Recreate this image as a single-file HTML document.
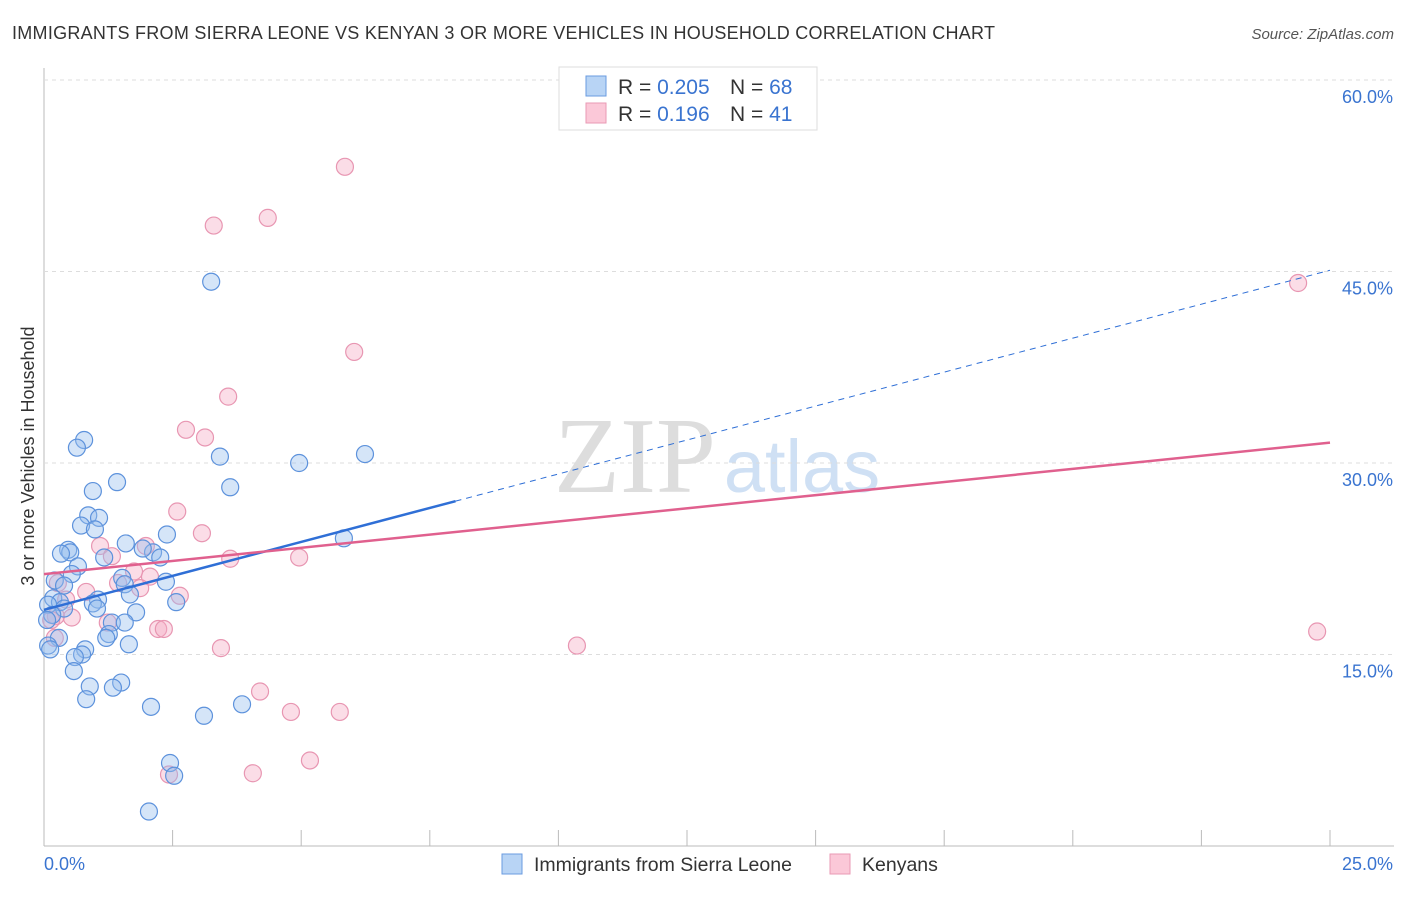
<!DOCTYPE html>
<html><head><meta charset="utf-8"><style>
body{margin:0;background:#fff;font-family:"Liberation Sans",sans-serif;}
</style></head><body>
<svg id="chart" width="1406" height="892">
<text x="12" y="39" font-size="18" fill="#333" textLength="983">IMMIGRANTS FROM SIERRA LEONE VS KENYAN 3 OR MORE VEHICLES IN HOUSEHOLD CORRELATION CHART</text>
<text x="1394" y="39" font-size="15" fill="#555" text-anchor="end" font-style="italic">Source: ZipAtlas.com</text>
<text x="635" y="492" font-size="108" fill="#ddd" text-anchor="middle" font-family="Liberation Serif">ZIP</text>
<text x="802" y="492" font-size="74" fill="#cfe0f4" text-anchor="middle">atlas</text>
<text transform="translate(34,456) rotate(-90)" font-size="18" fill="#333" text-anchor="middle">3 or more Vehicles in Household</text>
<g id="grid"></g><g id="pts"></g><g id="lines"></g>
<g>
<rect x="559" y="67" width="258" height="63" fill="#fff" stroke="#ddd"/>
<rect x="586" y="76" width="20" height="20" fill="#b8d4f5" stroke="#6a9be0"/>
<rect x="586" y="103" width="20" height="20" fill="#fbc8d8" stroke="#e99ab4"/>
<text x="618" y="94" font-size="21" fill="#333">R = <tspan fill="#3a74d0">0.205</tspan></text>
<text x="730" y="94" font-size="21" fill="#333">N = <tspan fill="#3a74d0">68</tspan></text>
<text x="618" y="121" font-size="21" fill="#333">R = <tspan fill="#3a74d0"> 0.196</tspan></text>
<text x="730" y="121" font-size="21" fill="#333">N = <tspan fill="#3a74d0">41</tspan></text>
</g>
<g>
<rect x="502" y="854" width="20" height="20" fill="#b8d4f5" stroke="#6a9be0"/>
<text x="534" y="871" font-size="19.5" fill="#333">Immigrants from Sierra Leone</text>
<rect x="830" y="854" width="20" height="20" fill="#fbc8d8" stroke="#e99ab4"/>
<text x="862" y="871" font-size="19.5" fill="#333">Kenyans</text>
</g>
<text x="44" y="870" font-size="18" fill="#3a74d0">0.0%</text>
<text x="1393" y="870" font-size="18" fill="#3a74d0" text-anchor="end">25.0%</text>
</svg>
<script>
const yTicks=[15,30,45,60];
const blueX=[3.25,0.78,0.64,3.42,4.96,6.24,1.42,0.95,3.62,0.86,1.07,0.72,0.99,2.39,5.83,1.59,0.47,0.51,0.33,2.12,1.92,2.26,1.17,0.66,0.54,0.21,2.37,1.52,1.57,0.39,1.67,2.57,0.18,0.31,1.05,0.95,1.03,0.39,0.08,0.16,1.79,1.32,1.57,0.06,1.26,1.21,0.29,1.65,0.08,0.12,0.80,0.74,0.60,0.58,0.89,1.50,1.34,0.82,2.08,3.11,3.85,2.45,2.53,2.04];
const blueY=[44.2,31.8,31.2,30.5,30.0,30.7,28.5,27.8,28.1,25.9,25.7,25.1,24.8,24.4,24.1,23.7,23.2,23.0,22.9,23.0,23.3,22.6,22.6,21.9,21.3,20.8,20.7,21.0,20.5,20.4,19.7,19.1,19.4,19.1,19.3,19.0,18.6,18.6,18.9,18.1,18.3,17.5,17.5,17.7,16.6,16.3,16.3,15.8,15.7,15.4,15.4,15.0,14.8,13.7,12.5,12.8,12.4,11.5,10.9,10.2,11.1,6.5,5.5,2.7];
const pinkX=[5.85,4.35,3.30,24.38,6.03,3.58,2.76,3.13,2.59,3.07,1.09,1.98,1.32,3.62,4.96,0.27,1.44,2.06,1.75,1.87,2.64,0.82,0.43,0.54,0.23,1.24,2.22,2.33,3.44,10.36,24.75,4.20,4.80,5.75,5.17,4.06,2.43,0.14,0.21];
const pinkY=[53.2,49.2,48.6,44.1,38.7,35.2,32.6,32.0,26.2,24.5,23.5,23.5,22.7,22.5,22.6,20.6,20.6,21.1,21.5,20.2,19.6,19.9,19.3,17.9,18.0,17.5,17.0,17.0,15.5,15.7,16.8,12.1,10.5,10.5,6.7,5.7,5.6,17.7,16.3];
const blueFit=[18.5,45.1];
const pinkFit=[21.3,31.6];
const NS="http://www.w3.org/2000/svg";
const xs=v=>44+v/25*1286, ys=v=>846-v/15*191.5;
function mk(t,a,p){const e=document.createElementNS(NS,t);for(const k in a)e.setAttribute(k,a[k]);p.appendChild(e);return e;}
const grid=document.getElementById('grid');
mk('line',{x1:44,y1:68,x2:44,y2:846,stroke:'#bbb'},grid);
mk('line',{x1:44,y1:846,x2:1394,y2:846,stroke:'#bbb'},grid);
for(let i=1;i<=10;i++){const l=mk('line',{x1:xs(i*2.5),x2:xs(i*2.5),y1:830,y2:846,stroke:'#bbb'},grid);

}
yTicks.forEach(t=>{const l=mk('line',{x1:44,x2:1394,y1:ys(t),y2:ys(t),stroke:'#ddd','stroke-dasharray':'4,4'},grid);


const tx=mk('text',{x:1393,y:ys(t)+23,'font-size':18,fill:'#3a74d0','text-anchor':'end'},grid);tx.textContent=t.toFixed(1)+'%';

});
const pts=document.getElementById('pts');
pinkX.forEach((x,i)=>{const c=mk('circle',{cx:xs(x),cy:ys(pinkY[i]),r:8.5,fill:'rgba(245,170,195,0.4)',stroke:'#e896b2','stroke-width':1.2},pts);

});
blueX.forEach((x,i)=>{const c=mk('circle',{cx:xs(x),cy:ys(blueY[i]),r:8.5,fill:'rgba(150,190,238,0.4)',stroke:'#5d92dc','stroke-width':1.2},pts);

});
const lines=document.getElementById('lines');
const bAt=v=>blueFit[0]+(blueFit[1]-blueFit[0])*v/25;
let l1=mk('line',{x1:xs(0),y1:ys(bAt(0)),x2:xs(8),y2:ys(bAt(8)),stroke:'#2f6fd6','stroke-width':2.5},lines);


let l2=mk('line',{x1:xs(8),y1:ys(bAt(8)),x2:xs(25),y2:ys(bAt(25)),stroke:'#2f6fd6','stroke-width':1,'stroke-dasharray':'6,5'},lines);


let l3=mk('line',{x1:xs(0),y1:ys(pinkFit[0]),x2:xs(25),y2:ys(pinkFit[1]),stroke:'#e0608e','stroke-width':2.5},lines);


</script>
</body></html>
